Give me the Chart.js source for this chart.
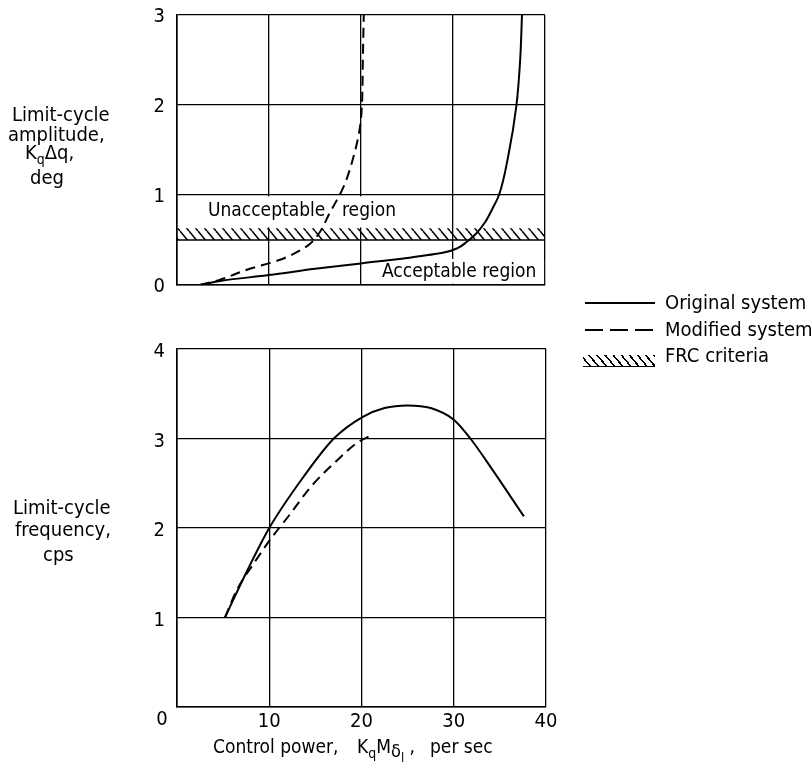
<!DOCTYPE html>
<html>
<head>
<meta charset="utf-8">
<script src="https://cdn.jsdelivr.net/npm/chart.js@4.4.1/dist/chart.umd.min.js"></script>
<style>
  body { margin: 0; background: #fff; }
  #wrap { position: relative; width: 812px; height: 766px; font-family: 'DejaVu Sans Condensed', 'Liberation Sans Narrow', sans-serif; font-size: 20px; color: #000; }
  canvas { position: absolute; left: 0; }
  .t { position: absolute; white-space: nowrap; line-height: 21px; }
  .s19 { font-size: 19px; }
  sub { font-size: 14px; vertical-align: -5px; line-height: 0; }
  .smp { position: absolute; }
</style>
</head>
<body>
<div id="wrap">
  <canvas id="amp" width="812" height="300" style="top:0"></canvas>
  <canvas id="freq" width="812" height="446" style="top:320px"></canvas>

  <div class="t" style="left:12px; top:104px;">Limit-cycle</div>
  <div class="t" style="left:8px; top:124px;">amplitude,</div>
  <div class="t" style="left:25px; top:142px;">K<sub>q</sub>&Delta;q,</div>
  <div class="t" style="left:30px; top:167px;">deg</div>

  <div class="t" style="left:13px; top:497px;">Limit-cycle</div>
  <div class="t" style="left:15px; top:519px;">frequency,</div>
  <div class="t" style="left:43px; top:544px;">cps</div>

  <div class="t s19" style="left:208px; top:199px;">Unacceptable</div>
  <div class="t s19" style="left:342px; top:199px;">region</div>
  <div class="t s19" style="left:382px; top:260px;">Acceptable region</div>

  <div class="smp" style="left:585px; top:302px; width:70px; height:1.6px; background:#000;"></div>
  <div class="t" style="left:665px; top:292px;">Original system</div>
  <div class="smp" style="left:585px; top:329px; width:70px; height:1.6px; background:repeating-linear-gradient(90deg,#000 0 18px,transparent 18px 25px);"></div>
  <div class="t" style="left:665px; top:319px;">Modified system</div>
  <div class="smp" style="left:583px; top:355px; width:72px; height:11px; border-bottom:1.5px solid #000; background:repeating-linear-gradient(50deg, transparent 0 4.6px, #000 4.6px 6.2px);"></div>
  <div class="t" style="left:665px; top:345px;">FRC criteria</div>

  <div class="t s19" style="left:213px; top:736px;">Control power,</div>
  <div class="t s19" style="left:357px; top:736px;">K<sub>q</sub>M<sub style="font-size:18px;vertical-align:-4px">&delta;<sub style="font-size:13px;vertical-align:-5px">l</sub></sub> ,</div>
  <div class="t s19" style="left:430px; top:736px;">per sec</div>
</div>

<script>
// control power, per sec
const xTicks = [0, 10, 20, 30, 40];
const ampTicks = [0, 1, 2, 3];
const freqTicks = [0, 1, 2, 3, 4];

// limit-cycle amplitude, deg
const originalAmpX = [2.5, 5, 10, 15, 20, 25, 29, 30.5, 31.5, 32.5, 33.5, 34.3, 35, 36, 36.9, 37.3, 37.5];
const originalAmpY = [0, 0.05, 0.11, 0.18, 0.24, 0.30, 0.36, 0.41, 0.48, 0.57, 0.70, 0.85, 1.0, 1.43, 2.0, 2.5, 3.0];
const modifiedAmpX = [2.5, 4.7, 7.6, 11.2, 14.1, 15.2, 16.6, 18.1, 19.2, 19.9, 20.1, 20.2, 20.3];
const modifiedAmpY = [0, 0.06, 0.17, 0.28, 0.43, 0.54, 0.80, 1.09, 1.43, 1.76, 2.0, 2.5, 3.0];

// FRC criteria band
const frcX = [0, 40];
const frcLower = 0.5;
const frcUpper = 0.63;

// limit-cycle frequency, cps
const originalFreqX = [5.2, 7.5, 10, 13.7, 17, 20.1, 22.5, 25, 27.5, 30, 31.8, 34, 37.6];
const originalFreqY = [1.0, 1.5, 2.0, 2.57, 3.0, 3.24, 3.34, 3.37, 3.34, 3.21, 3.0, 2.68, 2.13];
const modifiedFreqX = [5.2, 6.5, 8.3, 10.1, 12.3, 14.5, 17.4, 19.5, 20.9];
const modifiedFreqY = [1.0, 1.31, 1.6, 1.87, 2.16, 2.46, 2.76, 2.95, 3.03];

const pts = (xs, ys) => xs.map((x, i) => ({ x: x, y: ys[i] }));
const FONT = { family: "'DejaVu Sans Condensed', 'Liberation Sans Narrow', sans-serif", size: 20 };

function hatch() {
  const w = 9, h = 11;
  const c = document.createElement('canvas');
  c.width = w; c.height = h;
  const g = c.getContext('2d');
  g.strokeStyle = '#000';
  g.lineWidth = 1.5;
  g.beginPath();
  [-w, 0, w].forEach(dx => { g.moveTo(dx, 0); g.lineTo(dx + w, h); });
  g.stroke();
  return g.createPattern(c, 'repeat');
}

function xAxis(showTicks, height) {
  return {
    type: 'linear', min: 0, max: 40,
    afterBuildTicks: s => { s.ticks = xTicks.map(v => ({ value: v })); },
    afterFit: s => { s.height = height; },
    grid: { color: '#000', lineWidth: 1.3, drawTicks: false },
    border: { color: '#000', width: 1.6 },
    ticks: { display: showTicks, color: '#000', font: FONT, padding: 3, maxRotation: 0,
             callback: v => v === 0 ? '' : v }
  };
}

function yAxis(max, ticks, hideZero, offset) {
  return {
    type: 'linear', min: 0, max: max,
    afterBuildTicks: s => { s.ticks = ticks.map(v => ({ value: v })); },
    afterFit: s => { s.width = 177; },
    // invisible tick marks keep the labels off the axis without padding the chart area
    grid: { color: '#000', lineWidth: 1.3, drawTicks: true, tickLength: 12, tickColor: 'rgba(0,0,0,0)' },
    border: { color: '#000', width: 1.6 },
    ticks: { color: '#000', font: FONT, padding: 0, labelOffset: offset,
             callback: v => (hideZero && v === 0) ? '' : v }
  };
}

const lineStyle = (dashed) => ({
  borderColor: '#000', borderWidth: 2, pointRadius: 0,
  cubicInterpolationMode: 'monotone',
  borderDash: dashed ? [10, 6] : [], fill: false
});

const commonOpts = {
  responsive: false, animation: false,
  plugins: { legend: { display: false }, tooltip: { enabled: false } }
};

// white boxes behind the region labels, under the curves
const labelBoxes = {
  id: 'labelBoxes',
  beforeDatasetsDraw(chart) {
    const ctx = chart.ctx, xs = chart.scales.x, ys = chart.scales.y;
    const box = (x0, x1, y0, y1) => {
      const l = xs.getPixelForValue(x0), r = xs.getPixelForValue(x1);
      const t = ys.getPixelForValue(y1), b = ys.getPixelForValue(y0);
      ctx.fillRect(l, t, r - l, b - t);
    };
    ctx.save();
    ctx.fillStyle = '#fff';
    box(3.0, 24.8, 0.64, 0.985);
    box(22.3, 39.9, 0.015, 0.29);
    ctx.restore();
  }
};

new Chart(document.getElementById('amp'), {
  type: 'line',
  data: {
    datasets: [
      Object.assign(lineStyle(false), { indexAxis: 'y', data: pts(originalAmpX, originalAmpY) }),
      Object.assign(lineStyle(true), { indexAxis: 'y', data: pts(modifiedAmpX, modifiedAmpY) }),
      { data: pts(frcX, frcX.map(() => frcLower)), borderColor: '#000', borderWidth: 1.6, pointRadius: 0, fill: false },
      { data: pts(frcX, frcX.map(() => frcUpper)), borderWidth: 0, pointRadius: 0,
        backgroundColor: hatch(), fill: { value: frcLower } }
    ]
  },
  options: Object.assign({}, commonOpts, {
    layout: { padding: { left: 0, right: 267, top: 15, bottom: 0 } },
    scales: { x: xAxis(false, 15), y: yAxis(3, ampTicks, false, 2) }
  }),
  plugins: [labelBoxes]
});

// x tick "0" sits left of the corner in the original
const zeroLabel = {
  id: 'zeroLabel',
  afterDraw(chart) {
    const ctx = chart.ctx, xs = chart.scales.x;
    ctx.save();
    ctx.font = FONT.size + 'px ' + FONT.family;
    ctx.fillStyle = '#000';
    ctx.textAlign = 'center';
    ctx.textBaseline = 'top';
    ctx.fillText('0', xs.getPixelForValue(0) - 15, xs.top + 3);
    ctx.restore();
  }
};

new Chart(document.getElementById('freq'), {
  type: 'line',
  data: {
    datasets: [
      Object.assign(lineStyle(false), { data: pts(originalFreqX, originalFreqY) }),
      Object.assign(lineStyle(true), { data: pts(modifiedFreqX, modifiedFreqY) })
    ]
  },
  options: Object.assign({}, commonOpts, {
    layout: { padding: { left: 0, right: 266, top: 29, bottom: 0 } },
    scales: { x: xAxis(true, 59), y: yAxis(4, freqTicks, true, 3) }
  }),
  plugins: [zeroLabel]
});
</script>
</body>
</html>
